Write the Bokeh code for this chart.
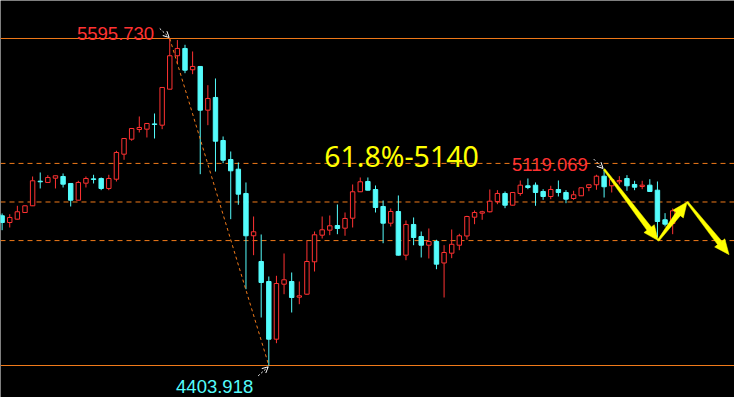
import math
from bokeh.plotting import figure
from bokeh.models import Span, Arrow, OpenHead
from bokeh.core.properties import value
from bokeh.embed import file_html
from bokeh.resources import INLINE

# ---------------- data ----------------
opens = [4953.2, 4949.6, 4925.1, 4937.2, 4961.6, 4986.0, 5075.7, 5071.0, 5086.6, 5092.8,
         5067.3, 5006.4, 5068.4, 5084.1, 5085.5, 5049.1, 5082.9, 5174.1, 5228.7, 5264.1,
         5265.2, 5284.5, 5279.8, 5411.0, 5532.8, 5559.4, 5481.7, 5493.8, 5334.5, 5380.8,
         5224.0, 5154.7, 5119.4, 5030.9, 4876.7, 4783.0, 4710.1, 4499.8, 4700.3, 4710.1,
         4652.9, 4663.8, 4781.9, 4878.9, 4897.1, 4914.2, 4904.4, 4940.8, 5037.1, 5074.6,
         5045.4, 4983.5, 4922.6, 4965.2, 4806.0, 4917.9, 4874.1, 4842.4, 4855.9, 4777.6,
         4813.3, 4842.4, 4876.0, 4944.5, 4959.1, 4964.2, 5001.7, 5030.9, 4988.2, 5030.9,
         5058.9, 5061.1, 5038.1, 5019.9, 5045.4, 5034.5, 5012.6, 5022.5, 5052.7, 5062.6,
         5093.9, 5058.9, 5073.5, 5085.5, 5063.7, 5056.4, 5061.1, 5042.9, 4935.0, 4921.5]
highs = [4966.3, 4958.0, 4955.4, 4986.0, 4987.0, 5092.8, 5107.4, 5097.6, 5095.4, 5103.8,
         5067.3, 5077.1, 5092.8, 5099.0, 5089.2, 5099.0, 5186.5, 5232.0, 5268.5, 5311.5,
         5287.0, 5322.4, 5418.0, 5595.73, 5590.0, 5572.8, 5548.4, 5494.5, 5425.6, 5450.0,
         5238.6, 5183.9, 5143.8, 5071.0, 4947.0, 4881.4, 4728.3, 4730.9, 4812.2, 4742.9,
         4710.1, 4858.4, 4892.3, 4947.0, 4950.6, 4990.8, 4961.6, 5063.7, 5089.2, 5089.2,
         5060.0, 5005.3, 4976.2, 5023.6, 4932.5, 4943.4, 4892.3, 4903.3, 4862.1, 4842.4,
         4899.7, 4884.0, 4949.6, 4968.9, 4967.8, 5045.4, 5042.9, 5038.1, 5035.5, 5078.2,
         5085.5, 5071.0, 5046.5, 5058.9, 5078.2, 5042.9, 5040.7, 5052.5, 5063.5, 5099.0,
         5119.069, 5082.5, 5093.9, 5097.6, 5077.1, 5077.1, 5082.9, 5074.6, 4959.1, 4976.2]
lows = [4935.0, 4897.1, 4906.9, 4936.0, 4960.0, 4985.0, 5049.1, 5070.0, 5049.1, 5052.7,
        4983.5, 5006.0, 5052.7, 5067.3, 5042.9, 5042.9, 5074.6, 5153.6, 5222.9, 5253.2,
        5234.9, 5231.3, 5265.2, 5410.0, 5502.2, 5469.3, 5465.7, 5101.2, 5279.8, 5110.7,
        5141.3, 4937.2, 4989.7, 4682.0, 4806.0, 4578.9, 4403.918, 4485.2, 4663.8, 4597.1,
        4627.4, 4662.0, 4746.5, 4866.8, 4878.9, 4882.5, 4876.7, 4906.9, 5036.0, 5042.0,
        4961.6, 4849.6, 4910.6, 4805.0, 4787.7, 4842.4, 4797.6, 4793.9, 4754.9, 4651.8,
        4795.0, 4824.2, 4862.1, 4919.0, 4935.0, 4961.6, 4991.9, 4977.3, 4987.0, 5022.5,
        5046.5, 4986.0, 5007.9, 5010.1, 5019.9, 4995.5, 5007.9, 5021.5, 5039.2, 5044.3,
        5016.2, 5034.5, 5063.7, 5040.7, 5042.9, 5046.5, 5037.0, 4870.5, 4910.6, 4882.5]
closes = [4950.6, 4925.1, 4943.4, 4964.2, 4986.0, 5077.1, 5073.5, 5089.2, 5095.4, 5064.8,
          5006.4, 5071.0, 5085.5, 5081.9, 5049.1, 5085.5, 5180.3, 5231.3, 5267.7, 5271.4,
          5286.0, 5282.3, 5417.2, 5532.8, 5559.4, 5480.3, 5493.8, 5334.5, 5377.1, 5221.4,
          5152.2, 5113.5, 5028.3, 4876.7, 4891.3, 4706.5, 4499.8, 4702.8, 4716.3, 4651.8,
          4658.0, 4783.0, 4880.3, 4898.5, 4913.1, 4903.3, 4939.7, 5037.1, 5073.5, 5042.9,
          4979.8, 4922.6, 4965.2, 4806.0, 4917.9, 4870.5, 4842.4, 4855.9, 4773.2, 4815.8,
          4845.7, 4876.7, 4947.0, 4961.6, 4964.2, 5002.8, 5030.9, 4988.2, 5034.5, 5061.1,
          5052.7, 5034.5, 5019.9, 5045.4, 5034.5, 5010.1, 5026.1, 5051.6, 5062.6, 5093.9,
          5055.3, 5081.9, 5078.2, 5058.9, 5053.8, 5061.1, 5038.1, 4928.8, 4919.0, 4967.8]

HIGH_IDX = 23          # candle with the swing high
LOW_IDX = 36           # candle with the swing low
PEAK2_IDX = 80         # candle with the later high
fib_ratios = [0.382, 0.5, 0.618]
label_high = "5595.730"
label_low = "4403.918"
label_peak2 = "5119.069"
fib_text = "61.8%-5140"

# projected zig-zag path (candle index, price)
path_x = [80, 87.1, 90.9, 96.4]
path_y = [5119.069, 4859.2, 4999.8, 4808.0]

# ---------------- layout ----------------
W, H = 734, 397
X0, X1 = 0.787, 97.113
Y0, Y1 = 4287.3, 5734.2
PXX = W / (X1 - X0)
PXY = H / (Y1 - Y0)

RED = "#FF3232"
CYAN = "#54FCFC"
ORANGE = "#F07A1A"
YELLOW = "#FFFF00"

HIGH = highs[HIGH_IDX]
LOW = lows[LOW_IDX]
fibs = [LOW + r * (HIGH - LOW) for r in fib_ratios]


def at(i, price, dx=0.0, dy=0.0):
    """data point shifted by screen pixels (dy positive = downwards)"""
    return i + dx / PXX, price - dy / PXY


p = figure(width=W, height=H, x_range=(X0, X1), y_range=(Y0, Y1),
           output_backend="svg", toolbar_location=None,
           x_axis_type=None, y_axis_type=None, min_border=0,
           background_fill_color="black", border_fill_color="black",
           outline_line_color=None)
p.grid.visible = False

# horizontal levels
for lv in (HIGH, LOW):
    p.add_layout(Span(location=lv, dimension="width", line_color=ORANGE,
                      line_width=1, level="underlay"))
for lv in fibs:
    p.add_layout(Span(location=lv, dimension="width", line_color=ORANGE,
                      line_width=1, line_dash="5 4", level="underlay"))

# candles
idx = list(range(len(opens)))
up = [c >= o for o, c in zip(opens, closes)]
colors = [RED if u else CYAN for u in up]
fills = ["black" if u else CYAN for u in up]
tops = [max(o, c) for o, c in zip(opens, closes)]
bots = [min(o, c) for o, c in zip(opens, closes)]

p.segment(x0=idx, y0=lows, x1=idx, y1=highs, line_color=colors, line_width=1)
p.vbar(x=idx, width=0.58, top=tops, bottom=bots, fill_color=fills,
       line_color=colors, line_width=1)

# dashed diagonal swing line
p.line([HIGH_IDX, LOW_IDX], [HIGH, LOW], line_color=ORANGE, line_width=1,
       line_dash="3 3")

# white pointer arrows
for (i, pr, sdx, sdy, edx, edy) in [
        (HIGH_IDX, HIGH, -10, -10, -0.6, -1),
        (LOW_IDX, LOW, -10.6, 10.3, -0.6, 1.3),
        (PEAK2_IDX, highs[PEAK2_IDX], -10.3, -10.1, -1, -0.8)]:
    xs, ys = at(i, pr, sdx, sdy)
    xe, ye = at(i, pr, edx, edy)
    p.add_layout(Arrow(end=OpenHead(size=6, line_color="white", line_width=1),
                       x_start=xs, y_start=ys, x_end=xe, y_end=ye,
                       line_color="white", line_width=1, line_dash="2 2"))


# yellow tapered arrows
def taper(xa, ya, xb, yb, w0=1.8, w1=5.5, hl=15.0, hw=13.0):
    ax, ay = xa * PXX, ya * PXY
    bx, by = xb * PXX, yb * PXY
    dx, dy = bx - ax, by - ay
    L = math.hypot(dx, dy)
    ux, uy = dx / L, dy / L
    nx, ny = -uy, ux
    cx, cy = bx - ux * hl, by - uy * hl
    pts = [(ax + nx * w0 / 2, ay + ny * w0 / 2),
           (cx + nx * w1 / 2, cy + ny * w1 / 2),
           (cx + nx * hw / 2, cy + ny * hw / 2),
           (bx, by),
           (cx - nx * hw / 2, cy - ny * hw / 2),
           (cx - nx * w1 / 2, cy - ny * w1 / 2),
           (ax - nx * w0 / 2, ay - ny * w0 / 2)]
    return [q[0] / PXX for q in pts], [q[1] / PXY for q in pts]


axs, ays = [], []
for k in range(len(path_x) - 1):
    xx, yy = taper(path_x[k], path_y[k], path_x[k + 1], path_y[k + 1])
    axs.append(xx)
    ays.append(yy)
p.patches(axs, ays, fill_color=YELLOW, line_color=YELLOW, line_width=0.5)

# labels
lx, ly = [], []
for (i, pr, dx, dy) in [(HIGH_IDX, HIGH, -15.6, -5.3),
                        (PEAK2_IDX, highs[PEAK2_IDX], -16.3, -5.1)]:
    a, b = at(i, pr, dx, dy)
    lx.append(a)
    ly.append(b)
p.text(x=lx, y=ly, text=[label_high, label_peak2], text_color=RED,
       text_font=value("Liberation Sans"), text_font_size=value("18.5px"),
       text_align="right", text_baseline="alphabetic")

a, b = at(LOW_IDX, LOW, -15.6, 21)
p.text(x=[a], y=[b], text=[label_low], text_color=CYAN,
       text_font=value("Liberation Sans"), text_font_size=value("18.5px"),
       text_align="right", text_baseline="alphabetic")

a, b = at(43.27, fibs[2], 0, -7.6)
p.text(x=[a], y=[b], text=[fib_text], text_color=YELLOW,
       text_font=value("Noto Sans"), text_font_size=value("28.5px"),
       text_align="left", text_baseline="alphabetic")

html = file_html(p, INLINE, title="chart")
open("out.html", "w").write(html)
